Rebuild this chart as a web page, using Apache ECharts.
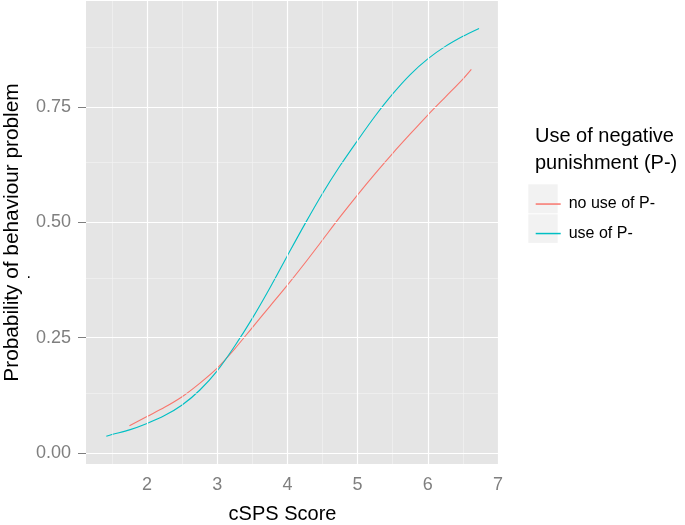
<!DOCTYPE html>
<html>
<head>
<meta charset="utf-8">
<script src="https://cdn.jsdelivr.net/npm/echarts@6/dist/echarts.min.js"></script>
<style>html,body{margin:0;padding:0;background:#fff}#c{width:685px;height:525px}</style>
</head>
<body>
<div id="c"></div>
<script>
// ---- data ----
const seriesNames = ['no use of P-', 'use of P-'];
const noUseX = [1.75, 2.0, 2.25, 2.5, 2.75, 3.0, 3.25, 3.5, 3.75, 4.0, 4.25, 4.5, 4.75, 5.0, 5.25, 5.5, 5.75, 6.0, 6.25, 6.5, 6.62];
const noUseY = [0.059, 0.079, 0.099, 0.122, 0.151, 0.184, 0.226, 0.272, 0.318, 0.364, 0.412, 0.462, 0.512, 0.560, 0.606, 0.650, 0.692, 0.733, 0.772, 0.811, 0.832];
const useX = [1.42, 1.5, 1.75, 2.0, 2.25, 2.5, 2.75, 3.0, 3.25, 3.5, 3.75, 4.0, 4.25, 4.5, 4.75, 5.0, 5.25, 5.5, 5.75, 6.0, 6.25, 6.5, 6.73];
const useY = [0.036, 0.040, 0.050, 0.064, 0.081, 0.104, 0.136, 0.178, 0.232, 0.292, 0.358, 0.428, 0.497, 0.563, 0.623, 0.678, 0.731, 0.779, 0.821, 0.855, 0.882, 0.904, 0.921];
const xTicks = [2, 3, 4, 5, 6, 7];
const yTicks = [0, 0.25, 0.5, 0.75];
const xMinor = [1.5, 2.5, 3.5, 4.5, 5.5, 6.5];
const yMinor = [0.125, 0.375, 0.625, 0.875];

const zip = (xs, ys) => xs.map((x, i) => [x, ys[i]]);

const chart = echarts.init(document.getElementById('c'), null, {renderer: 'canvas'});
const grey = '#7F7F7F';
const font = 'Liberation Sans, Arial, Helvetica, sans-serif';

const minorStyle = {color: '#F3F3F3', width: 0.6, type: 'solid'};
const majorStyle = {color: '#FFFFFF', width: 1.2, type: 'solid'};
const gridLines = []
  .concat(xMinor.map(v => ({xAxis: v, lineStyle: minorStyle})))
  .concat(yMinor.map(v => ({yAxis: v, lineStyle: minorStyle})))
  .concat(xTicks.map(v => ({xAxis: v, lineStyle: majorStyle})))
  .concat(yTicks.map(v => ({yAxis: v, lineStyle: majorStyle})));

const option = {
  animation: false,
  backgroundColor: '#ffffff',
  textStyle: {fontFamily: font},
  grid: {left: 86, right: 187, top: 1, bottom: 61, show: true, backgroundColor: '#E5E5E5', borderWidth: 0,
    containLabel: false, outerBoundsMode: 'none'},
  xAxis: {
    type: 'value', min: 1.131, max: 7.0,
    name: 'cSPS Score', nameLocation: 'middle', nameGap: 40,
    nameTextStyle: {fontSize: 20, color: '#000', fontFamily: font, padding: [0, 19, 0, 0]},
    axisLine: {show: false},
    axisTick: {show: true, length: 6, customValues: xTicks, lineStyle: {color: grey, width: 1}},
    axisLabel: {customValues: xTicks, margin: 12, fontSize: 18, color: grey, fontFamily: font},
    splitLine: {show: false}
  },
  yAxis: {
    type: 'value', min: -0.024, max: 0.9805,
    name: 'Probability of behaviour problem', nameLocation: 'middle', nameGap: 63,
    nameTextStyle: {fontSize: 20.8, color: '#000', fontFamily: font},
    axisLine: {show: false},
    axisTick: {show: true, length: 8, customValues: yTicks, lineStyle: {color: grey, width: 1}},
    axisLabel: {customValues: yTicks, margin: 15, fontSize: 18, color: grey, fontFamily: font,
      formatter: v => v.toFixed(2)},
    splitLine: {show: false}
  },
  legend: {
    data: seriesNames, orient: 'vertical', left: 530.7, top: 184.3,
    itemWidth: 25, itemHeight: 1.5, itemGap: 0, icon: 'rect', z: 10,
    textStyle: {fontSize: 16, color: '#000', fontFamily: font, lineHeight: 29.5, padding: [0, 0, 0, 3]}
  },
  graphic: [
    {type: 'rect', left: 528.3, top: 184.3, z: 0, shape: {width: 29.4, height: 29}, style: {fill: '#F2F2F2'}},
    {type: 'rect', left: 528.3, top: 214.3, z: 0, shape: {width: 29.4, height: 28.6}, style: {fill: '#F2F2F2'}},
    {type: 'text', left: 535, top: 123, z: 1, style: {text: 'Use of negative\npunishment (P-)', fontSize: 20, lineHeight: 27, fill: '#000', font: '20px ' + font}},
    {type: 'text', left: 26.5, top: 266, z: 1, style: {text: '.', fill: '#000', font: '16px ' + font}}
  ],
  series: [
    {type: 'line', name: '_grid', data: [], z: 1, silent: true,
      markLine: {silent: true, symbol: ['none', 'none'], label: {show: false}, animation: false, data: gridLines}},
    {type: 'line', name: seriesNames[0], data: zip(noUseX, noUseY), showSymbol: false, smooth: 0.3, z: 3,
      color: '#F8766D', lineStyle: {width: 1.1, color: '#F8766D'}},
    {type: 'line', name: seriesNames[1], data: zip(useX, useY), showSymbol: false, smooth: 0.3, z: 3,
      color: '#00BFC4', lineStyle: {width: 1.1, color: '#00BFC4'}}
  ]
};
chart.setOption(option);
</script>
</body>
</html>
